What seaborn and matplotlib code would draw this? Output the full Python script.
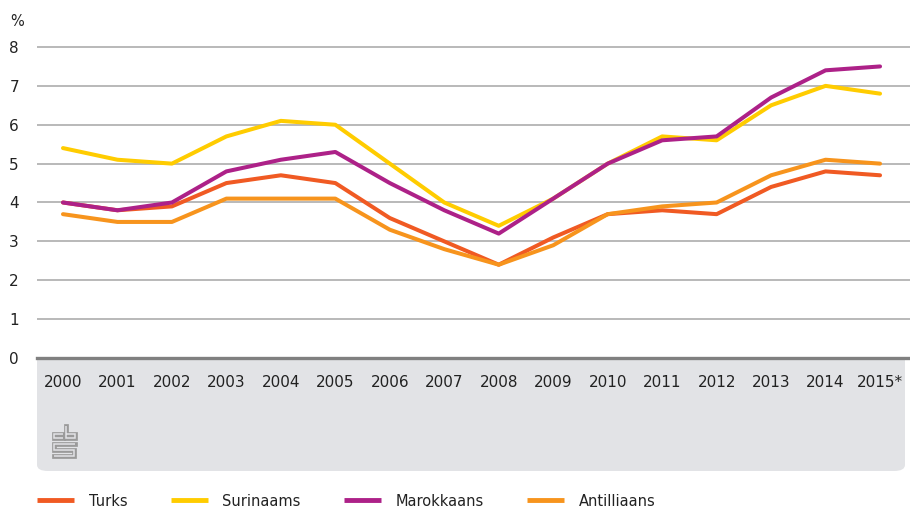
import numpy as np
import pandas as pd
import matplotlib
matplotlib.use("Agg")
import matplotlib.pyplot as plt
from matplotlib.patches import FancyBboxPatch
from matplotlib.lines import Line2D
import seaborn as sns

# gegevens
jaren = ["2000", "2001", "2002", "2003", "2004", "2005", "2006", "2007",
         "2008", "2009", "2010", "2011", "2012", "2013", "2014", "2015*"]
turks = [4.0, 3.8, 3.9, 4.5, 4.7, 4.5, 3.6, 3.0, 2.4, 3.1, 3.7, 3.8, 3.7, 4.4, 4.8, 4.7]
surinaams = [5.4, 5.1, 5.0, 5.7, 6.1, 6.0, 5.0, 4.0, 3.4, 4.1, 5.0, 5.7, 5.6, 6.5, 7.0, 6.8]
marokkaans = [4.0, 3.8, 4.0, 4.8, 5.1, 5.3, 4.5, 3.8, 3.2, 4.1, 5.0, 5.6, 5.7, 6.7, 7.4, 7.5]
antilliaans = [3.7, 3.5, 3.5, 4.1, 4.1, 4.1, 3.3, 2.8, 2.4, 2.9, 3.7, 3.9, 4.0, 4.7, 5.1, 5.0]

groepen = ["Turks", "Surinaams", "Marokkaans", "Antilliaans"]
kleuren = {"Turks": "#f05a23", "Surinaams": "#ffcc00",
           "Marokkaans": "#ad2188", "Antilliaans": "#f7941d"}

W, H = 910, 511
df = pd.DataFrame({
    "pos": list(range(len(jaren))) * 4,
    "waarde": turks + surinaams + marokkaans + antilliaans,
    "groep": sum([[g] * len(jaren) for g in groepen], []),
})

sns.set_theme(style="white")
plt.rcParams["font.family"] = ["DejaVu Sans"]
plt.rcParams["font.size"] = 10.5

fig = plt.figure(figsize=(W / 100, H / 100), dpi=100)

# grijze band onder de x-as
bandkleur = "#e2e3e6"
band = FancyBboxPatch((37 / W, 1 - 471 / H), 868 / W, 130 / H,
                      boxstyle="round,pad=0,rounding_size=0.012",
                      transform=fig.transFigure, facecolor=bandkleur,
                      edgecolor="none", zorder=-1)
fig.patches.append(band)

y0px, ymax = 358, 8.3
ppu = 38.875
ax = fig.add_axes([37 / W, 1 - y0px / H, 873 / W, ymax * ppu / H])

sns.lineplot(data=df, x="pos", y="waarde", hue="groep", hue_order=groepen,
             palette=kleuren, linewidth=2.9, ax=ax, legend=False)

ax.set_xlim(-0.477, 15.55)
ax.set_ylim(0, ymax)
ax.set_yticks(range(0, 9))
ax.set_xticks(range(len(jaren)))
ax.set_xticklabels(jaren)
ax.set_xlabel("")
ax.set_ylabel("")
ax.grid(axis="y", color="#b3b3b3", linewidth=1.3)
ax.grid(axis="x", visible=False)
for s in ["top", "right", "left"]:
    ax.spines[s].set_visible(False)
ax.spines["bottom"].set_color("#808080")
ax.spines["bottom"].set_linewidth(2.4)
ax.tick_params(axis="y", length=0, pad=13, labelcolor="#222222")
ax.tick_params(axis="x", direction="out", length=4, width=1, color="#999999",
               pad=8, labelcolor="#222222")
ax.patch.set_facecolor("white")

fig.text(10 / W, 1 - 21 / H, "%", ha="left", va="center", color="#222222")

# cbs-logo (vereenvoudigd, dubbele lijn)
def lijn(xs, ys):
    fx = [x / W for x in xs]
    fy = [1 - y / H for y in ys]
    fig.add_artist(Line2D(fx, fy, color="#9a9a9a", linewidth=3.4,
                          solid_capstyle="projecting", solid_joinstyle="miter"))
    fig.add_artist(Line2D(fx, fy, color=bandkleur, linewidth=1.1,
                          solid_capstyle="butt", solid_joinstyle="miter"))
lijn([62.5, 54, 54, 62.5], [433.5, 433.5, 437.5, 437.5])
lijn([66, 66, 74.5, 74.5, 66], [426, 437.5, 437.5, 433.5, 433.5])
lijn([74.5, 54, 54, 74, 74, 54], [443.5, 443.5, 449.5, 449.5, 455.5, 455.5])

# legenda
handles = [Line2D([], [], color=kleuren[g], linewidth=3.5, solid_capstyle="butt")
           for g in groepen]
fig.legend(handles, groepen, loc="center left",
           bbox_to_anchor=(24 / W, 1 - 501 / H), ncol=4, frameon=False,
           handlelength=2.55, handletextpad=1.0, columnspacing=2.95,
           labelcolor="#222222", fontsize=10.5)

fig.savefig("out.png", dpi=100)
